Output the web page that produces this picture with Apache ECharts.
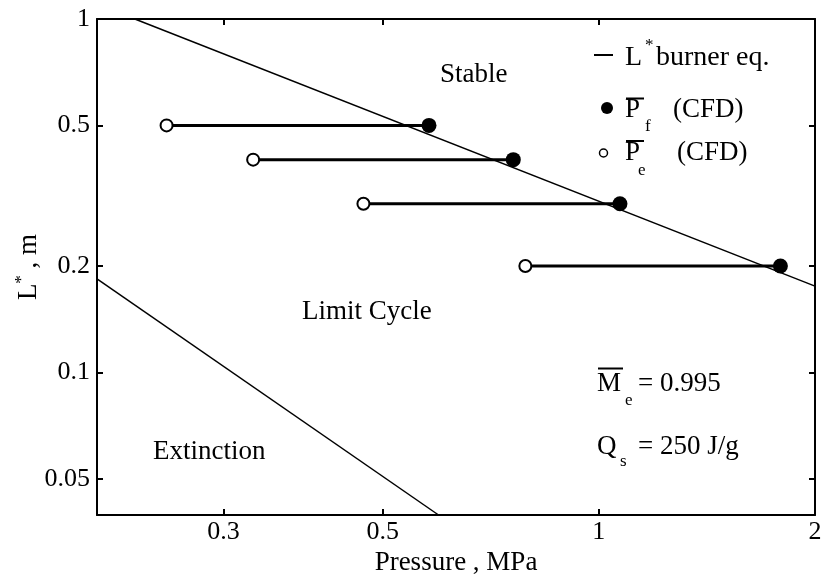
<!DOCTYPE html>
<html>
<head>
<meta charset="utf-8">
<script src="https://cdn.jsdelivr.net/npm/echarts@6/dist/echarts.min.js"></script>
<style>html,body{margin:0;padding:0;background:#fff}#c{width:826px;height:581px}</style>
</head>
<body>
<div id="c"></div>
<script>
// ---- data ----
const X_TICKS = [0.3, 0.5, 1, 2];
const Y_TICKS = [0.05, 0.1, 0.2, 0.5, 1];
const X_RANGE = [0.2, 2];
const Y_RANGE = [0.0395, 1];
const SEG_L = [0.5, 0.4, 0.3, 0.2];          // L*, m
const PE_CFD = [0.25, 0.33, 0.47, 0.79];     // open circles (P_e)
const PF_CFD = [0.58, 0.76, 1.07, 1.79];     // filled circles (P_f)
const BURNER_P = [0.2258, 2];
const BURNER_L = [1, 0.1755];
const EXT_P = [0.2, 0.598];
const EXT_L = [0.184, 0.0395];

const FONT = 'Liberation Serif';
const fmt = v => String(parseFloat((+v).toPrecision(4)));

const chart = echarts.init(document.getElementById('c'), null, {renderer: 'canvas'});

const axisCommon = {
  type: 'log', logBase: 10,
  axisLine: {show: true, lineStyle: {color: '#000', width: 2}},
  splitLine: {show: false},
  minorTick: {show: false},
};

const segSeries = SEG_L.map((l, i) => ({
  type: 'line', name: 'seg' + i,
  data: [[PE_CFD[i], l], [PF_CFD[i], l]],
  showSymbol: false, symbol: 'none', silent: true,
  lineStyle: {color: '#000', width: 3}, z: 3
}));

const option = {
  animation: false,
  backgroundColor: '#fff',
  grid: {left: 97, right: 11, top: 19, bottom: 66, containLabel: false, outerBoundsMode: 'none'},
  xAxis: [
    Object.assign({}, axisCommon, {
      position: 'bottom', min: X_RANGE[0], max: X_RANGE[1],
      axisTick: {show: true, inside: true, length: 6, lineStyle: {color: '#000', width: 2}, customValues: X_TICKS},
      axisLabel: {show: true, customValues: X_TICKS, formatter: fmt, color: '#000', fontFamily: FONT, fontSize: 26, margin: 4},
      name: 'Pressure , MPa', nameLocation: 'middle', nameGap: 34, nameMoveOverlap: false,
      nameTextStyle: {color: '#000', fontFamily: FONT, fontSize: 27}
    }),
    Object.assign({}, axisCommon, {
      position: 'top', min: X_RANGE[0], max: X_RANGE[1],
      axisTick: {show: true, inside: true, length: 6, lineStyle: {color: '#000', width: 2}, customValues: X_TICKS},
      axisLabel: {show: false}
    })
  ],
  yAxis: [
    Object.assign({}, axisCommon, {
      position: 'left', min: Y_RANGE[0], max: Y_RANGE[1],
      axisTick: {show: true, inside: true, length: 6, lineStyle: {color: '#000', width: 2}, customValues: Y_TICKS},
      axisLabel: {show: true, customValues: Y_TICKS, formatter: fmt, color: '#000', fontFamily: FONT, fontSize: 26, margin: 7},
      name: '{a|L}{s|*}{a| , m}', nameLocation: 'middle', nameRotate: 90, nameGap: 52, nameMoveOverlap: false,
      nameTextStyle: {color: '#000', fontFamily: FONT, fontSize: 27,
        rich: {a: {fontFamily: FONT, fontSize: 27, lineHeight: 32, color: '#000'},
               s: {fontFamily: FONT, fontSize: 17, lineHeight: 32, verticalAlign: 'top', color: '#000'}}}
    }),
    Object.assign({}, axisCommon, {
      position: 'right', min: Y_RANGE[0], max: Y_RANGE[1],
      axisTick: {show: true, inside: true, length: 6, lineStyle: {color: '#000', width: 2}, customValues: Y_TICKS},
      axisLabel: {show: false}
    })
  ],
  series: [
    {type: 'line', name: 'L* burner eq.', data: BURNER_P.map((p, i) => [p, BURNER_L[i]]),
     symbol: 'none', lineStyle: {color: '#000', width: 1.5}, z: 4},
    {type: 'line', name: 'extinction', data: EXT_P.map((p, i) => [p, EXT_L[i]]),
     symbol: 'none', lineStyle: {color: '#000', width: 1.5}, z: 4},
    ...segSeries,
    {type: 'scatter', name: 'Pf (CFD)', data: PF_CFD.map((p, i) => [p, SEG_L[i]]),
     symbol: 'circle', symbolSize: 15, itemStyle: {color: '#000', opacity: 1}, z: 6},
    {type: 'scatter', name: 'Pe (CFD)', data: PE_CFD.map((p, i) => [p, SEG_L[i]]),
     symbol: 'circle', symbolSize: 12, itemStyle: {color: '#fff', borderColor: '#000', borderWidth: 2, opacity: 1}, z: 6}
  ],
  graphic: [
    // legend
    {type: 'line', shape: {x1: 594, y1: 55, x2: 613, y2: 55}, style: {stroke: '#000', lineWidth: 2}},
    {type: 'text', style: {x: 625, y: 58, text: 'L', font: '28px "Liberation Serif"', fill: '#000', verticalAlign: 'middle'}},
    {type: 'text', style: {x: 645, y: 46, text: '*', font: '17px "Liberation Serif"', fill: '#000', verticalAlign: 'middle'}},
    {type: 'text', style: {x: 656, y: 58, text: 'burner eq.', font: '28px "Liberation Serif"', fill: '#000', verticalAlign: 'middle'}},

    {type: 'circle', shape: {cx: 607, cy: 108, r: 6}, style: {fill: '#000'}},
    {type: 'line', shape: {x1: 626, y1: 98.5, x2: 644, y2: 98.5}, style: {stroke: '#000', lineWidth: 2}},
    {type: 'text', style: {x: 625, y: 110, text: 'P', font: '27px "Liberation Serif"', fill: '#000', verticalAlign: 'middle'}},
    {type: 'text', style: {x: 645, y: 127, text: 'f', font: '17px "Liberation Serif"', fill: '#000', verticalAlign: 'middle'}},
    {type: 'text', style: {x: 673, y: 110, text: '(CFD)', font: '27px "Liberation Serif"', fill: '#000', verticalAlign: 'middle'}},

    {type: 'circle', shape: {cx: 603.5, cy: 153, r: 4}, style: {fill: '#fff', stroke: '#000', lineWidth: 1.5}},
    {type: 'line', shape: {x1: 626, y1: 141, x2: 644, y2: 141}, style: {stroke: '#000', lineWidth: 2}},
    {type: 'text', style: {x: 625, y: 153, text: 'P', font: '27px "Liberation Serif"', fill: '#000', verticalAlign: 'middle'}},
    {type: 'text', style: {x: 638, y: 171, text: 'e', font: '17px "Liberation Serif"', fill: '#000', verticalAlign: 'middle'}},
    {type: 'text', style: {x: 677, y: 153, text: '(CFD)', font: '27px "Liberation Serif"', fill: '#000', verticalAlign: 'middle'}},

    // region labels
    {type: 'text', style: {x: 440, y: 75, text: 'Stable', font: '27px "Liberation Serif"', fill: '#000', verticalAlign: 'middle'}},
    {type: 'text', style: {x: 302, y: 312, text: 'Limit Cycle', font: '27px "Liberation Serif"', fill: '#000', verticalAlign: 'middle'}},
    {type: 'text', style: {x: 153, y: 452, text: 'Extinction', font: '27px "Liberation Serif"', fill: '#000', verticalAlign: 'middle'}},

    // parameters
    {type: 'line', shape: {x1: 598, y1: 368.5, x2: 623, y2: 368.5}, style: {stroke: '#000', lineWidth: 2}},
    {type: 'text', style: {x: 597, y: 384, text: 'M', font: '27px "Liberation Serif"', fill: '#000', verticalAlign: 'middle'}},
    {type: 'text', style: {x: 625, y: 401, text: 'e', font: '17px "Liberation Serif"', fill: '#000', verticalAlign: 'middle'}},
    {type: 'text', style: {x: 638, y: 384, text: '= 0.995', font: '27px "Liberation Serif"', fill: '#000', verticalAlign: 'middle'}},
    {type: 'text', style: {x: 597, y: 447, text: 'Q', font: '27px "Liberation Serif"', fill: '#000', verticalAlign: 'middle'}},
    {type: 'text', style: {x: 620, y: 462, text: 's', font: '17px "Liberation Serif"', fill: '#000', verticalAlign: 'middle'}},
    {type: 'text', style: {x: 638, y: 447, text: '= 250 J/g', font: '27px "Liberation Serif"', fill: '#000', verticalAlign: 'middle'}}
  ]
};
chart.setOption(option);
</script>
</body>
</html>
